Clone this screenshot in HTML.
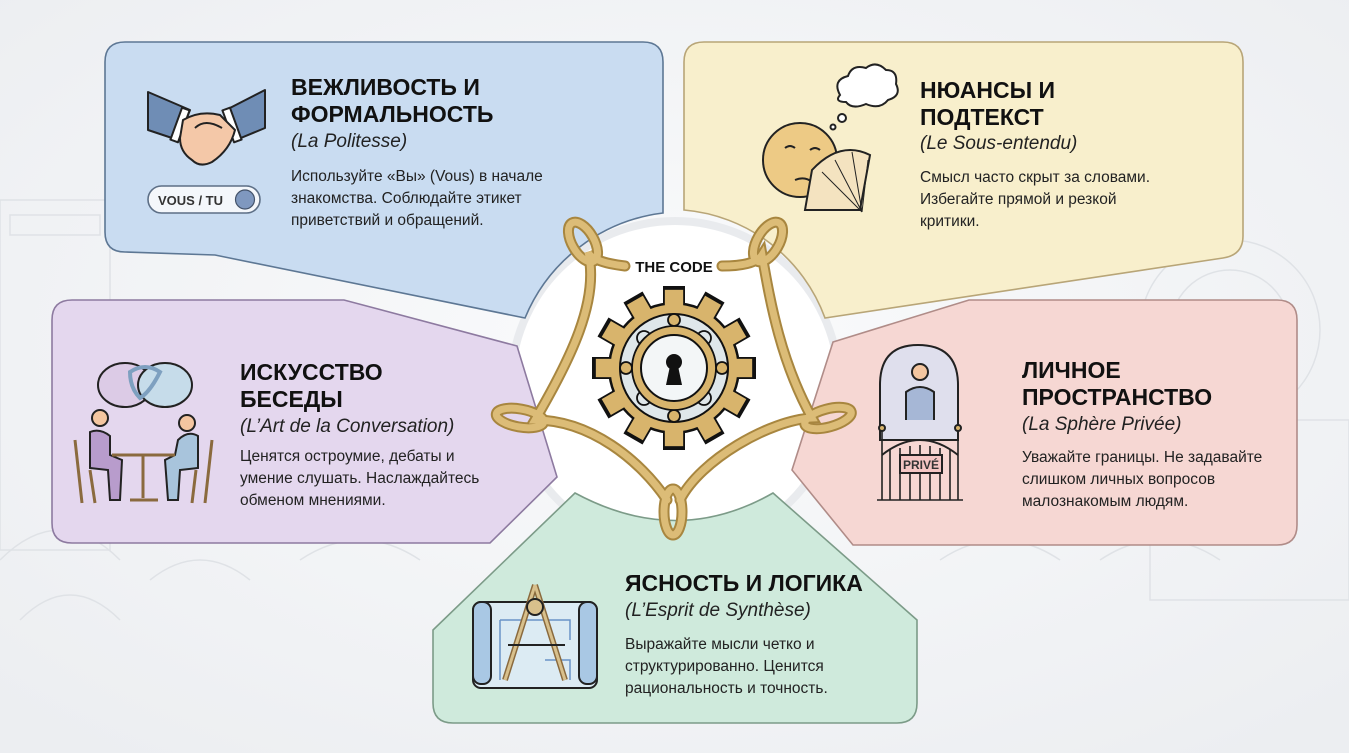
<!DOCTYPE html>
<html><head><meta charset="utf-8"><style>
html,body{margin:0;padding:0;background:#f1f2f4;}
svg{display:block;}
.t{font-family:"Liberation Sans",sans-serif;font-weight:bold;font-size:23px;fill:#111;}
.i{font-family:"Liberation Sans",sans-serif;font-style:italic;font-size:19px;fill:#222;}
.b{font-family:"Liberation Sans",sans-serif;font-size:15.5px;fill:#222;}
</style></head><body>
<svg width="1349" height="753" viewBox="0 0 1349 753" xmlns="http://www.w3.org/2000/svg">
<defs>
<radialGradient id="bg" cx="50%" cy="45%" r="70%"><stop offset="0" stop-color="#fafbfc"/><stop offset="1" stop-color="#eceef1"/></radialGradient>
</defs>
<rect width="1349" height="753" fill="url(#bg)"/>
<!-- faint architecture -->
<g fill="none" stroke="#dfe2e6" stroke-width="1.5">
<rect x="0" y="200" width="110" height="350"/><rect x="10" y="215" width="90" height="20"/><path d="M0,560 Q60,500 120,560 M20,620 Q70,570 120,620"/>
<circle cx="1230" cy="330" r="90"/><circle cx="1230" cy="330" r="60"/><rect x="1150" y="420" width="199" height="180"/>
<path d="M940,560 Q1000,520 1060,560 M1100,560 Q1160,520 1220,560 M300,560 Q360,520 420,560 M150,580 Q200,540 250,580"/>
</g>
<!-- central disc -->
<circle cx="675" cy="385" r="168" fill="#e9ebee"/>
<circle cx="675" cy="385" r="160" fill="#ffffff"/>
<!-- panels -->
<path d="M125,42 H643 Q663,42 663,62 V213 A172,172 0 0 0 525,318 L215,255 L125,252 Q105,252 105,232 V62 Q105,42 125,42 Z" fill="#c9dcf1" stroke="#5d7794" stroke-width="1.6"/>
<path d="M704,42 H1223 Q1243,42 1243,62 V236 Q1243,255 1223,258 L825,318 A165,165 0 0 0 684,210 V62 Q684,42 704,42 Z" fill="#f8efcc" stroke="#b8a577" stroke-width="1.6"/>
<path d="M72,300 H344 L517,346 L557,477 L490,543 H72 Q52,543 52,523 V320 Q52,300 72,300 Z" fill="#e4d7ee" stroke="#8d7aa0" stroke-width="1.6"/>
<path d="M833,342 L969,300 H1277 Q1297,300 1297,320 V525 Q1297,545 1277,545 H853 L792,470 Z" fill="#f6d7d3" stroke="#b08c88" stroke-width="1.6"/>
<path d="M575,493 Q677,548 773,493 L917,620 V703 Q917,723 897,723 H453 Q433,723 433,703 V630 Z" fill="#cfeadc" stroke="#7c9b88" stroke-width="1.6"/>

<!-- ribbon -->
<g fill="none" stroke-linecap="round">
<g stroke="#a8863f" stroke-width="11">
<path d="M625,266 Q592,262 588,252 C600,300 570,360 535,420 C590,420 640,460 667,500 M680,500 C700,460 770,420 812,418 C780,360 770,300 762,255 Q755,266 722,266"/>
<ellipse cx="583" cy="242" rx="11" ry="22" transform="rotate(-30 583 242)"/>
<ellipse cx="768" cy="242" rx="11" ry="22" transform="rotate(30 768 242)"/>
<ellipse cx="520" cy="418" rx="24" ry="9" transform="rotate(10 520 418)"/>
<ellipse cx="828" cy="418" rx="24" ry="9" transform="rotate(-15 828 418)"/>
<ellipse cx="673" cy="512" rx="9" ry="23"/>
</g>
<g stroke="#dcbc77" stroke-width="7">
<path d="M625,266 Q592,262 588,252 C600,300 570,360 535,420 C590,420 640,460 667,500 M680,500 C700,460 770,420 812,418 C780,360 770,300 762,255 Q755,266 722,266"/>
<ellipse cx="583" cy="242" rx="11" ry="22" transform="rotate(-30 583 242)"/>
<ellipse cx="768" cy="242" rx="11" ry="22" transform="rotate(30 768 242)"/>
<ellipse cx="520" cy="418" rx="24" ry="9" transform="rotate(10 520 418)"/>
<ellipse cx="828" cy="418" rx="24" ry="9" transform="rotate(-15 828 418)"/>
<ellipse cx="673" cy="512" rx="9" ry="23"/>
</g>
</g>
<text x="674" y="272" text-anchor="middle" font-family="Liberation Sans,sans-serif" font-weight="bold" font-size="15" fill="#111">THE CODE</text>

<!-- gear -->
<g transform="translate(674,368)">
<g fill="#111">
<circle r="66"/>
<g id="teeth"><rect x="-11" y="-82" width="22" height="30"/><rect x="-11" y="-82" width="22" height="30" transform="rotate(30)"/><rect x="-11" y="-82" width="22" height="30" transform="rotate(60)"/><rect x="-11" y="-82" width="22" height="30" transform="rotate(90)"/><rect x="-11" y="-82" width="22" height="30" transform="rotate(120)"/><rect x="-11" y="-82" width="22" height="30" transform="rotate(150)"/><rect x="-11" y="-82" width="22" height="30" transform="rotate(180)"/><rect x="-11" y="-82" width="22" height="30" transform="rotate(210)"/><rect x="-11" y="-82" width="22" height="30" transform="rotate(240)"/><rect x="-11" y="-82" width="22" height="30" transform="rotate(270)"/><rect x="-11" y="-82" width="22" height="30" transform="rotate(300)"/><rect x="-11" y="-82" width="22" height="30" transform="rotate(330)"/></g>
</g>
<g fill="#d8b46c">
<circle r="63.5"/>
<g transform="scale(0.965)"><rect x="-9.5" y="-81" width="19" height="30"/><rect x="-9.5" y="-81" width="19" height="30" transform="rotate(30)"/><rect x="-9.5" y="-81" width="19" height="30" transform="rotate(60)"/><rect x="-9.5" y="-81" width="19" height="30" transform="rotate(90)"/><rect x="-9.5" y="-81" width="19" height="30" transform="rotate(120)"/><rect x="-9.5" y="-81" width="19" height="30" transform="rotate(150)"/><rect x="-9.5" y="-81" width="19" height="30" transform="rotate(180)"/><rect x="-9.5" y="-81" width="19" height="30" transform="rotate(210)"/><rect x="-9.5" y="-81" width="19" height="30" transform="rotate(240)"/><rect x="-9.5" y="-81" width="19" height="30" transform="rotate(270)"/><rect x="-9.5" y="-81" width="19" height="30" transform="rotate(300)"/><rect x="-9.5" y="-81" width="19" height="30" transform="rotate(330)"/></g>
</g>
<circle r="54" fill="#dfe7ea" stroke="#111" stroke-width="2"/>
<g fill="#d8b46c" stroke="#111" stroke-width="1.8">
<circle cx="0" cy="-48" r="6"/><circle cx="0" cy="48" r="6"/><circle cx="-48" cy="0" r="6"/><circle cx="48" cy="0" r="6"/>
<circle cx="-30" cy="-30" r="7" fill="#dfe7ea"/><circle cx="30" cy="-30" r="7" fill="#dfe7ea"/><circle cx="-30" cy="30" r="7" fill="#dfe7ea"/><circle cx="30" cy="30" r="7" fill="#dfe7ea"/>
<circle r="42"/>
</g>
<circle r="33" fill="#f3f6f7" stroke="#111" stroke-width="2"/>
<circle cx="0" cy="-6" r="8" fill="#111"/>
<path d="M-4,-2 L-8,17 H8 L4,-2 Z" fill="#111"/>
</g>

<!-- Blue icon: handshake -->
<g stroke="#222" stroke-width="2" stroke-linejoin="round">
<path d="M148,92 L190,110 L178,140 L148,130 Z" fill="#6f8db5"/>
<path d="M265,90 L226,110 L236,140 L265,128 Z" fill="#6f8db5"/>
<rect x="176" y="108" width="8" height="34" fill="#fff" transform="rotate(20 180 125)"/>
<rect x="228" y="108" width="8" height="34" fill="#fff" transform="rotate(-20 232 125)"/>
<path d="M183,120 Q200,110 220,115 L235,130 Q230,150 212,162 Q200,168 192,160 Q180,152 180,138 Z" fill="#f4c8a8"/>
<path d="M195,128 Q205,118 222,128" fill="none"/>
</g>
<rect x="148" y="186" width="112" height="27" rx="13.5" fill="#f4f7fb" stroke="#5d6f86" stroke-width="1.6"/>
<text x="158" y="205" font-family="Liberation Sans,sans-serif" font-weight="bold" font-size="13" fill="#333">VOUS / TU</text>
<circle cx="245" cy="199.5" r="9.5" fill="#7f98bf" stroke="#44536a" stroke-width="1.2"/>

<!-- Yellow icon -->
<g stroke="#222" stroke-width="2">
<path d="M840,95 Q832,80 848,76 Q852,64 866,68 Q876,60 886,70 Q898,70 896,84 Q902,96 888,100 Q880,110 866,104 Q852,110 846,102 Q834,102 840,95 Z" fill="#fff"/>
<circle cx="842" cy="118" r="4" fill="#fff"/><circle cx="833" cy="127" r="2.5" fill="#fff"/>
<circle cx="800" cy="160" r="37" fill="#edca85"/>
<path d="M785,148 Q790,144 795,148 M810,150 Q815,146 820,150 M795,180 Q805,176 812,182" fill="none"/>
<path d="M805,210 L860,210 L870,155 Q840,140 812,170 Z" fill="#f4e3c0"/>
<path d="M862,212 L822,172 M862,212 L835,160 M862,212 L852,152 M862,212 L868,160" fill="none" stroke-width="1"/>
</g>

<!-- Purple icon -->
<g stroke="#222" stroke-width="2">
<ellipse cx="125" cy="385" rx="27" ry="22" fill="#dccbe6"/>
<ellipse cx="165" cy="385" rx="27" ry="22" fill="#c6dcea"/>
<path d="M130,372 Q145,362 160,372 Q150,392 140,398 Q130,388 130,372 Z" fill="none" stroke="#7ea0c0" stroke-width="4"/>
<circle cx="100" cy="418" r="8" fill="#f4c6a0"/><circle cx="187" cy="423" r="8" fill="#f4c6a0"/>
<path d="M90,432 Q100,428 110,436 L110,455 L122,460 L120,500 L110,500 L108,470 L90,468 Z" fill="#b89ccc"/>
<path d="M198,436 Q188,430 178,440 L175,455 L165,460 L168,500 L178,500 L180,470 L198,468 Z" fill="#a8c4dc"/>
<path d="M112,455 H175 M143,455 V498 M130,500 H158" fill="none" stroke="#8a6a3e" stroke-width="3"/>
<path d="M75,440 L82,503 M90,470 L95,503 M212,440 L205,503 M196,470 L192,503" fill="none" stroke="#8a6a3e" stroke-width="3"/>
</g>

<!-- Pink icon -->
<g stroke="#222" stroke-width="2">
<path d="M880,440 V385 Q880,345 918,345 Q958,345 958,385 V440 Z" fill="#dde0f0" fill-opacity="0.9"/>
<circle cx="920" cy="372" r="8" fill="#f4c6a0"/>
<path d="M906,420 V392 Q920,382 934,392 V420" fill="#a6b7d6"/>
<path d="M877,500 H963 M882,430 V500 M958,430 V500 M890,450 V500 M900,448 V500 M910,446 V500 M920,445 V500 M930,446 V500 M940,448 V500 M950,450 V500" fill="none" stroke-width="1.6"/>
<path d="M882,455 Q920,425 958,455" fill="none"/>
<circle cx="882" cy="428" r="3" fill="#d8b46c"/><circle cx="958" cy="428" r="3" fill="#d8b46c"/>
<rect x="900" y="455" width="42" height="18" fill="#f4c6c4"/>
</g>
<text x="921" y="469" text-anchor="middle" font-family="Liberation Sans,sans-serif" font-weight="bold" font-size="12" fill="#333">PRIVÉ</text>

<!-- Green icon -->
<g stroke="#222" stroke-width="2">
<rect x="473" y="602" width="124" height="86" rx="8" fill="#dcebf3"/>
<rect x="473" y="602" width="18" height="82" rx="8" fill="#a9c8e4"/>
<rect x="579" y="602" width="18" height="82" rx="8" fill="#a9c8e4"/>
<path d="M500,620 H570 V640 M500,620 V680 M545,660 H570 V680" fill="none" stroke="#6a93c7" stroke-width="1.5"/>
<path d="M535,585 L505,680 M535,585 L565,680" fill="none" stroke="#8a6a3e" stroke-width="6"/>
<path d="M535,585 L505,680 M535,585 L565,680" fill="none" stroke="#d8c08c" stroke-width="3"/>
<circle cx="535" cy="607" r="8" fill="#d8c08c"/>
<path d="M508,645 H565" fill="none"/>
</g>

<!-- Texts -->
<text class="t" x="291" y="95">ВЕЖЛИВОСТЬ И</text>
<text class="t" x="291" y="122">ФОРМАЛЬНОСТЬ</text>
<text class="i" x="291" y="147">(La Politesse)</text>
<text class="b" x="291" y="181">Используйте «Вы» (Vous) в начале</text>
<text class="b" x="291" y="203">знакомства. Соблюдайте этикет</text>
<text class="b" x="291" y="225">приветствий и обращений.</text>

<text class="t" x="920" y="98">НЮАНСЫ И</text>
<text class="t" x="920" y="125">ПОДТЕКСТ</text>
<text class="i" x="920" y="149">(Le Sous-entendu)</text>
<text class="b" x="920" y="182">Смысл часто скрыт за словами.</text>
<text class="b" x="920" y="204">Избегайте прямой и резкой</text>
<text class="b" x="920" y="226">критики.</text>

<text class="t" x="240" y="380">ИСКУССТВО</text>
<text class="t" x="240" y="407">БЕСЕДЫ</text>
<text class="i" x="240" y="432">(L’Art de la Conversation)</text>
<text class="b" x="240" y="461">Ценятся остроумие, дебаты и</text>
<text class="b" x="240" y="483">умение слушать. Наслаждайтесь</text>
<text class="b" x="240" y="505">обменом мнениями.</text>

<text class="t" x="1022" y="378">ЛИЧНОЕ</text>
<text class="t" x="1022" y="405">ПРОСТРАНСТВО</text>
<text class="i" x="1022" y="430">(La Sphère Privée)</text>
<text class="b" x="1022" y="462">Уважайте границы. Не задавайте</text>
<text class="b" x="1022" y="484">слишком личных вопросов</text>
<text class="b" x="1022" y="506">малознакомым людям.</text>

<text class="t" x="625" y="591">ЯСНОСТЬ И ЛОГИКА</text>
<text class="i" x="625" y="616">(L’Esprit de Synthèse)</text>
<text class="b" x="625" y="649">Выражайте мысли четко и</text>
<text class="b" x="625" y="671">структурированно. Ценится</text>
<text class="b" x="625" y="693">рациональность и точность.</text>
</svg>
</body></html>
